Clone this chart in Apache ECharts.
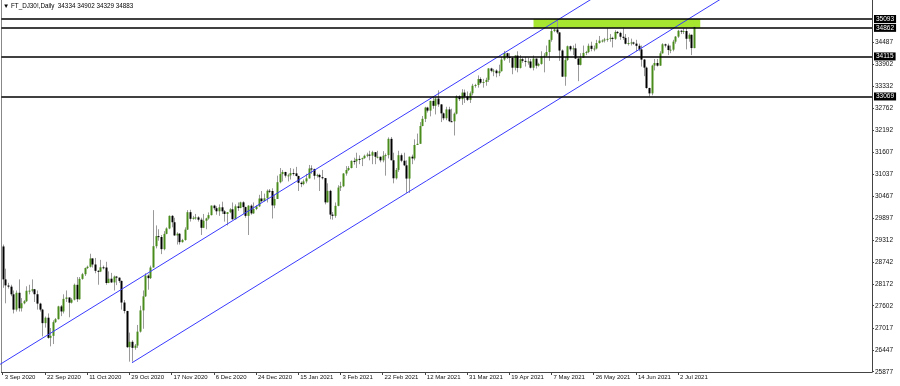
<!DOCTYPE html>
<html><head><meta charset="utf-8">
<script src="https://cdn.jsdelivr.net/npm/echarts@6/dist/echarts.min.js"></script>
<style>html,body{margin:0;padding:0;background:#fff}#c{width:900px;height:386px}</style>
</head><body><div id="c"></div>
<script>
// ---- data ----
const symbolTitle = '\u25BC FT_DJ30!,Daily  34334 34902 34329 34883';
const firstDate = '2020-09-03';
const missingDates = ['2020-12-25', '2020-12-27', '2021-01-01'];
const emptySlots = 67; // chart shift on the right
const opens = [29150,28290,28130,28100,27900,27500,27940,27535,27666,27720,
27993,27995,28032,27902,27657,27500,27147,27288,26763,26815,
27173,27250,27584,27452,27781,27817,27682,27760,28148,27772,
28303,28425,28586,28620,28837,28679,28514,28494,28606,28600,
28195,28308,28210,28363,28335,28250,27685,27463,26519,26659,
26501,26560,26925,27480,27847,28390,28323,28600,29157,29420,
29397,29080,29479,29620,29950,29783,29438,29483,29263,29320,
29591,30046,29872,29900,29910,29850,29638,29823,29883,29969,
30218,30150,30069,30173,30068,29999,30046,30120,29861,30199,
30154,30303,30179,29950,30216,30015,30129,30199,30403,30335,
30409,30606,30600,30223,30391,30829,31041,31097,31000,31008,
31068,31060,30991,30814,30780,30850,30930,31188,31176,30997,
31020,30960,30937,30303,30603,29983,29950,30212,30688,30724,
31056,31148,31200,31386,31376,31438,31431,31458,31520,31550,
31523,31613,31494,31494,31400,31522,31537,31962,31403,30932,
31150,31535,31391,31270,30924,31496,31450,31802,31833,32297,
32485,32779,32700,32953,32826,33015,32862,32628,32500,32731,
32423,32420,32619,33072,33000,33171,33067,32982,33153,33350,
33370,33527,33430,33446,33503,33801,33740,33745,33677,33730,
34035,34200,34100,34078,33821,34137,33815,34043,34000,33981,
33984,33820,34060,33874,33920,34113,34133,34230,34548,34778,
34820,34743,34270,33587,34021,34382,34300,34327,34061,33896,
34084,34208,34230,34394,34313,34323,34465,34529,34530,34560,
34575,34600,34577,34756,34730,34630,34600,34447,34466,34480,
34450,34393,34299,34033,33823,33290,33150,33876,33945,33874,
34196,34433,34400,34283,34292,34502,34633,34786,34760,34780,
34577,34681,34334];
const highs = [29200,28570,28200,28150,28000,28000,28290,27800,27750,28110,
28150,28290,28040,28000,27680,27520,27320,27400,27020,27220,
27280,27600,27620,27900,28000,27820,27800,28180,28350,28350,
28460,28600,28650,28960,28840,28850,28530,28800,28650,28750,
28500,28460,28390,28380,28340,28260,27750,27470,26900,26700,
26600,27100,27600,28000,28450,28420,28650,30100,29700,29600,
29450,29550,29650,29960,29970,29900,29520,29500,29350,29650,
30100,30110,29950,30000,29940,29900,30000,29900,30040,30220,
30240,30200,30250,30320,30100,30050,30150,30300,30250,30300,
30320,30330,30190,30230,30250,30300,30230,30500,30600,30530,
30640,30650,30670,30500,31000,31200,31150,31100,31050,31200,
31180,31230,31000,30850,30900,31050,31280,31270,31180,31050,
31050,31150,30940,30800,30630,30050,30300,30750,30840,31070,
31250,31250,31400,31470,31600,31530,31470,31550,31600,31650,
31650,31620,31650,31500,31640,31580,32000,32010,31600,31200,
31650,31580,31600,31400,31500,31550,31950,32100,32400,32560,
32800,32800,32960,33050,33050,33230,32870,32650,32800,32800,
32750,32650,33100,33100,33260,33250,33200,33200,33400,33400,
33620,33570,33530,33560,33810,33820,33790,33780,33900,34100,
34260,34210,34200,34100,34150,34250,34150,34080,34100,34080,
34050,34140,34060,33950,34250,34200,34400,34550,34850,34850,
35093,34750,34300,34100,34400,34400,34400,34450,34070,34200,
34400,34260,34450,34500,34400,34550,34650,34560,34600,34850,
34700,34630,34800,34780,34760,34850,34700,34620,34580,34500,
34550,34450,34400,34050,33850,33300,33900,34050,34050,34250,
34460,34450,34450,34400,34550,34650,34810,34810,34850,34850,
34720,34690,34902];
const lows = [28070,27665,28050,27850,27400,27450,27450,27450,27640,27700,
27900,27950,27700,27500,27450,26800,27030,26740,26540,26600,
27150,27240,27330,27400,27700,27300,27660,27740,27700,27760,
28280,28380,28560,28600,28600,28450,28150,28480,28550,28150,
28190,28200,28000,28140,28200,27500,27400,26500,26140,26140,
26450,26500,26900,27000,27830,28020,28300,28600,29100,29300,
28950,29050,29470,29600,29650,29430,29200,29200,29250,29300,
29580,29800,29850,29850,29800,29450,29630,29600,29850,29960,
30100,29980,29950,30000,29800,29700,30020,29850,29860,30080,
30150,30000,29900,29450,29980,30000,30100,30180,30300,30330,
30300,30550,29880,30150,30390,30800,30850,30950,30850,30900,
31000,30980,30600,30700,30750,30800,30920,31050,30900,30950,
30600,30900,30250,30300,29860,29850,29900,30200,30600,30700,
31000,31120,31190,31290,31200,31300,31250,31440,31480,31400,
31300,31300,31450,31350,31350,31000,31450,31400,30800,30900,
31100,31350,31250,30550,30550,31300,31400,31800,31830,32290,
32400,32650,32550,32750,32600,32800,32400,32450,32450,32400,
32400,32050,32600,32950,32850,32900,32950,32900,33100,33300,
33300,33400,33300,33350,33450,33700,33600,33570,33600,33720,
34000,34050,33950,33650,33750,33700,33800,33950,33850,33900,
33800,33750,33800,33850,33900,33700,34100,34000,34500,34750,
34700,34000,33580,33350,34000,34250,34150,34050,33470,33880,
34080,34150,34200,34250,34250,34300,34450,34480,34480,34500,
34500,34350,34550,34700,34550,34550,34430,34400,34400,34420,
34250,34250,33850,33600,33270,33069,33100,33750,33850,33870,
34190,34350,34150,34200,34250,34450,34600,34700,34700,34300,
34500,34150,34329];
const closes = [28290,28133,28100,27900,27500,27940,27535,27666,27720,27993,
27995,28032,27902,27657,27500,27147,27288,26763,26815,27173,
27250,27584,27452,27781,27817,27682,27760,28148,27772,28303,
28425,28586,28620,28837,28679,28514,28494,28606,28600,28195,
28308,28210,28363,28335,28250,27685,27463,26519,26659,26501,
26560,26925,27480,27847,28390,28323,28600,29157,29420,29397,
29080,29479,29620,29950,29783,29438,29483,29263,29320,29591,
30046,29872,29900,29910,29850,29638,29823,29883,29969,30218,
30150,30069,30173,30068,29999,30046,30120,29861,30199,30154,
30303,30179,29950,30216,30015,30129,30199,30403,30335,30409,
30606,30600,30223,30391,30829,31041,31097,31000,31008,31068,
31060,30991,30814,30780,30850,30930,31188,31176,30997,31020,
30960,30937,30303,30603,29983,29950,30212,30688,30724,31056,
31148,31200,31386,31376,31438,31431,31458,31520,31550,31523,
31613,31494,31494,31400,31522,31537,31962,31403,30932,31150,
31535,31391,31270,30924,31496,31450,31802,31833,32297,32485,
32779,32700,32953,32826,33015,32862,32628,32500,32731,32423,
32420,32619,33072,33000,33171,33067,32982,33153,33350,33370,
33527,33430,33446,33503,33801,33740,33745,33677,33730,34035,
34200,34100,34078,33821,34137,33815,34043,34000,33981,33984,
33820,34060,33874,33920,34113,34133,34230,34548,34778,34820,
34743,34270,33587,34021,34382,34300,34327,34061,33896,34084,
34208,34230,34394,34313,34323,34465,34529,34530,34560,34575,
34600,34577,34756,34730,34630,34600,34447,34466,34480,34450,
34393,34299,34033,33823,33290,33150,33876,33945,33874,34196,
34433,34400,34283,34292,34502,34633,34786,34760,34780,34577,
34681,34334,34883];
const yTickValues = [34487,33902,33332,32762,32192,31607,31037,30467,29897,29312,28742,28172,27602,27017,26447,25877];
const xTickIndices = [0,16,32,48,64,80,96,112,128,144,160,176,192,208,224,240,256];
const levelLines = [35093,34862,34115,33069];
const zoneBox = {fromIndex: 201.2, toIndex: 264.4, top: 35093, bottom: 34862};
const channelUpper = [[-1, 26070], [232, 35990]];
const channelLower = [[49, 26112], [280, 35948]];

// ---- categories (trading days Sun-Fri) ----
const MONTHS = ['Jan','Feb','Mar','Apr','May','Jun','Jul','Aug','Sep','Oct','Nov','Dec'];
const categories = [];
(function(){
  const d = new Date(firstDate + 'T12:00:00Z');
  while (categories.length < opens.length) {
    const iso = d.toISOString().slice(0,10);
    if (d.getUTCDay() !== 6 && missingDates.indexOf(iso) < 0) {
      categories.push(d.getUTCDate() + ' ' + MONTHS[d.getUTCMonth()] + ' ' + d.getUTCFullYear());
    }
    d.setUTCDate(d.getUTCDate() + 1);
  }
  for (let k = 0; k < emptySlots; k++) categories.push('');
})();
const candleData = opens.map((o, i) => [i, o, closes[i], lows[i], highs[i]]);

const FONT = 'Liberation Sans';
const chart = echarts.init(document.getElementById('c'), null, {renderer: 'canvas'});

chart.setOption({
  animation: false,
  backgroundColor: '#ffffff',
  grid: {left: 1.4, right: 28, top: 0, bottom: 14, show: false},
  graphic: [{type: 'text', left: 3, top: 3, style: {text: symbolTitle, font: '6.3px "' + FONT + '"', fill: '#000'}}],
  xAxis: [{
    type: 'category', data: categories, boundaryGap: true, show: false
  }, {
    type: 'value', min: -0.5, max: categories.length - 0.5, position: 'bottom', offset: 0,
    axisLine: {show: true, onZero: false, lineStyle: {color: '#444', width: 1}},
    axisTick: {show: true, customValues: xTickIndices, length: 3, lineStyle: {color: '#444'}},
    axisLabel: {show: true, customValues: xTickIndices, align: 'left', margin: 2, padding: [0,0,0,2],
      fontFamily: FONT, fontSize: 6, color: '#111', hideOverlap: false,
      formatter: (v) => categories[Math.round(v)] || ''},
    splitLine: {show: false}
  }],
  yAxis: [{
    type: 'value', position: 'right', min: 25870, max: 35590,
    axisLine: {show: true, onZero: false, lineStyle: {color: '#444', width: 1}},
    axisTick: {show: true, length: 2, customValues: yTickValues, lineStyle: {color: '#444'}},
    axisLabel: {show: true, customValues: yTickValues, margin: 3, fontFamily: FONT, fontSize: 6.5, color: '#111',
      hideOverlap: false, formatter: (v) => String(Math.round(v))},
    splitLine: {show: false}
  }, {
    type: 'value', position: 'left', min: 25870, max: 35590, offset: 0,
    axisLine: {show: true, onZero: false, lineStyle: {color: '#888', width: 1}},
    axisTick: {show: false}, axisLabel: {show: false}, splitLine: {show: false}
  }],
  series: [{
    type: 'line', name: 'zone', xAxisIndex: 1, yAxisIndex: 0, data: [], z: 1,
    markArea: {silent: true, itemStyle: {color: '#a6e630', opacity: 1},
      data: [[{xAxis: zoneBox.fromIndex, yAxis: zoneBox.top}, {xAxis: zoneBox.toIndex, yAxis: zoneBox.bottom}]]}
  }, {
    type: 'custom', name: 'candles', xAxisIndex: 0, yAxisIndex: 0, z: 3,
    data: candleData,
    encode: {x: 0, y: [1, 2, 3, 4]},
    renderItem: function (params, api) {
      const i = api.value(0), o = api.value(1), c = api.value(2), l = api.value(3), h = api.value(4);
      const pO = api.coord([i, o]), pC = api.coord([i, c]), pL = api.coord([i, l]), pH = api.coord([i, h]);
      const cx = Math.round(pO[0]);
      const top = Math.min(pO[1], pC[1]), bot = Math.max(pO[1], pC[1]);
      return {type: 'group', children: [
        {type: 'line', shape: {x1: cx + 0.5, y1: pH[1], x2: cx + 0.5, y2: pL[1]}, style: {stroke: '#9a9a9a', lineWidth: 1}},
        {type: 'rect', shape: {x: cx - 0.5, y: top, width: 2, height: Math.max(1, bot - top)},
          style: {fill: c >= o ? '#4a8c1c' : '#000000'}}
      ]};
    }
  }, {
    type: 'line', name: 'channelUpper', xAxisIndex: 1, yAxisIndex: 0, data: channelUpper, symbol: 'none', z: 4,
    lineStyle: {color: '#3a3aff', width: 1}, clip: true
  }, {
    type: 'line', name: 'channelLower', xAxisIndex: 1, yAxisIndex: 0, data: channelLower, symbol: 'none', z: 4,
    lineStyle: {color: '#3a3aff', width: 1}, clip: true
  }, {
    type: 'line', name: 'levels', xAxisIndex: 1, yAxisIndex: 0, data: [], z: 5,
    markLine: {silent: true, symbol: ['none', 'none'], animation: false,
      lineStyle: {color: '#000', width: 1.5, type: 'solid'},
      label: {show: true, position: 'end', distance: 2, formatter: (p) => String(p.value),
        backgroundColor: '#000', color: '#fff', fontFamily: FONT, fontSize: 6.5, padding: [1, 2, 0, 2]},
      data: levelLines.map(v => ({yAxis: v}))}
  }]
});
</script>
</body></html>
